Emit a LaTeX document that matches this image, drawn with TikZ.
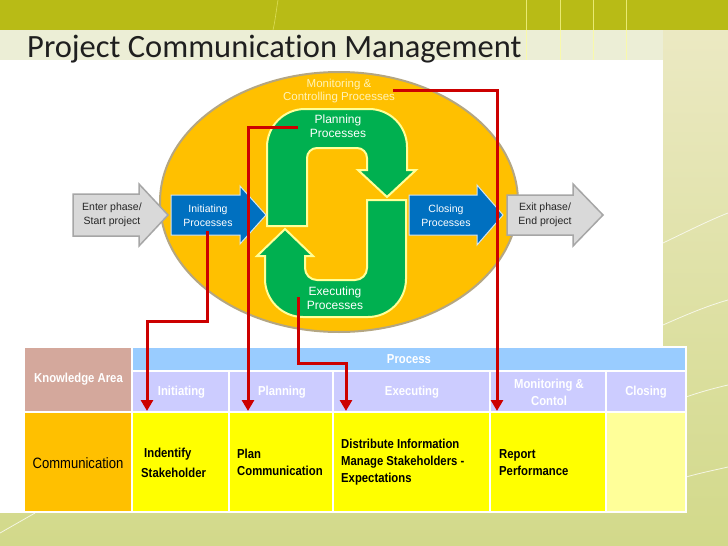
\documentclass[tikz,border=0pt]{standalone}
\usepackage{fontspec}
\setmainfont{Liberation Sans}
\newfontfamily\titlefont[Ligatures=NoCommon]{Carlito}
\newfontfamily\narrowfont[FakeStretch=0.87]{Liberation Sans}
\usetikzlibrary{arrows.meta}
\definecolor{olive}{HTML}{B8BB16}
\definecolor{bgtop}{HTML}{EDEAC6}
\definecolor{bgbot}{HTML}{D2D98A}
\definecolor{band}{HTML}{ECEED6}
\definecolor{ellfill}{HTML}{FFC000}
\definecolor{ellline}{HTML}{B4A682}
\definecolor{greenf}{HTML}{00B050}
\definecolor{greenl}{HTML}{FFFF99}
\definecolor{bluef}{HTML}{0070C0}
\definecolor{bluel}{HTML}{D0E4F4}
\definecolor{grayf}{HTML}{D9D9D9}
\definecolor{grayl}{HTML}{A6A6A6}
\definecolor{redl}{HTML}{CC0000}
\definecolor{kacol}{HTML}{D4A89C}
\definecolor{proccol}{HTML}{99CCFF}
\definecolor{subcol}{HTML}{CCCCFF}
\definecolor{commcol}{HTML}{FFC000}
\definecolor{bodycol}{HTML}{FFFF00}
\definecolor{closecol}{HTML}{FFFF99}
\definecolor{montext}{HTML}{FFF3B8}
\begin{document}
\begin{tikzpicture}[x=1pt,y=-1pt,
  grayarrow/.style={fill=grayf,draw=grayl,line width=1.5pt,line join=miter},
  bluearrow/.style={fill=bluef,draw=bluel,line width=1pt,line join=miter},
  greenshape/.style={fill=greenf,draw=greenl,line width=2pt},
  dtxt/.style={font=\fontsize{10.5}{13.5}\selectfont,align=center,inner sep=0pt},
  cell/.style={draw=white,line width=2.5pt},
  thead/.style={font=\narrowfont\bfseries\fontsize{13}{17}\selectfont,text=white,align=center,inner sep=0pt},
  tbody/.style={font=\narrowfont\bfseries\fontsize{13}{17}\selectfont,text=black,align=left,inner sep=0pt,anchor=west},
  redline/.style={draw=redl,line width=3pt,line join=miter,-{Triangle[width=12pt,length=11pt]}},
  deco/.style={draw=white,line width=0.8pt,opacity=0.75}
]
\useasboundingbox (0,0) rectangle (728,546);
% background
\shade[top color=bgtop,bottom color=bgbot] (0,0) rectangle (728,546);
\fill[olive] (0,0) rectangle (728,30);
\fill[band] (0,30) rectangle (663,60);
\foreach \xx in {526,560,593,626} \draw[draw=greenl,line width=0.8pt,opacity=0.7] (\xx,0) -- (\xx,60);
\draw[draw=greenl,line width=0.6pt,opacity=0.5] (278,0) .. controls (276,12) and (275,22) .. (273,30);
\draw[deco] (663,243) .. controls (690,230) and (710,220) .. (728,213);
\draw[deco] (663,325) .. controls (690,313) and (710,305) .. (728,300);
\draw[deco] (686,397) .. controls (700,392) and (715,388) .. (728,385);
\draw[deco] (686,477) .. controls (700,473) and (715,470) .. (728,467);
\draw[deco] (0,533) -- (35,513);
\fill[white] (0,60) rectangle (663,513);
% title
\node[anchor=base west,inner sep=0pt,text=black!88] (title) at (27,57) {\titlefont\fontsize{32.5}{32.5}\selectfont Project Communication Management};
% ellipse
\filldraw[fill=ellfill,draw=ellline,line width=2pt] (339,202) ellipse [x radius=179, y radius=130];
% planning shape
\filldraw[greenshape] (267,226) -- (267,147) arc[start angle=180,end angle=270,radius=38]
  -- (369,109) arc[start angle=270,end angle=360,radius=38]
  -- (407,170) -- (416,170) -- (387,197) -- (358,170) -- (367,170) -- (367,158)
  arc[start angle=0,end angle=-90,radius=10] -- (317,148)
  arc[start angle=270,end angle=180,radius=10] -- (307,226) -- cycle;
% executing shape
\filldraw[greenshape] (406,200) -- (406,279) arc[start angle=0,end angle=90,radius=38]
  -- (303,317) arc[start angle=90,end angle=180,radius=38]
  -- (265,256) -- (257,256) -- (285,229) -- (313,256) -- (305,256) -- (305,268)
  arc[start angle=180,end angle=90,radius=12] -- (355,280)
  arc[start angle=90,end angle=0,radius=12] -- (367,200) -- cycle;
% process arrows
\filldraw[grayarrow] (73,194) -- (139,194) -- (139,184) -- (168,215) -- (139,246) -- (139,236) -- (73,236) -- cycle;
\filldraw[bluearrow] (171,195) -- (240,195) -- (240,186) -- (266,215) -- (240,244) -- (240,235) -- (171,235) -- cycle;
\filldraw[bluearrow] (409,195) -- (477,195) -- (477,185) -- (503,215) -- (477,245) -- (477,235) -- (409,235) -- cycle;
\filldraw[grayarrow] (507,195) -- (573,195) -- (573,184) -- (603,215) -- (573,246) -- (573,235) -- (507,235) -- cycle;
% diagram texts
\node[dtxt,text=black!85] (enter) at (112,215) {Enter phase/\\Start project};
\node[dtxt,text=white] (init) at (208,215.5) {Initiating\\Processes};
\node[dtxt,text=white] (close) at (446,215.5) {Closing\\Processes};
\node[dtxt,text=black!85] (exit) at (545,215) {Exit phase/\\End project};
\node[dtxt,text=montext,font=\fontsize{11.5}{13.5}\selectfont] (monit) at (339,91) {Monitoring \&\\Controlling Processes};
\node[dtxt,text=white,font=\fontsize{12}{14}\selectfont] (plan) at (338,126.5) {Planning\\Processes};
\node[dtxt,text=white,font=\fontsize{12}{14}\selectfont] (exec) at (335,298.5) {Executing\\Processes};
% table
\filldraw[cell,fill=kacol] (24,347) rectangle (132,412);
\filldraw[cell,fill=proccol] (132,347) rectangle (686,371);
\filldraw[cell,fill=subcol] (132,371) rectangle (229,412);
\filldraw[cell,fill=subcol] (229,371) rectangle (333,412);
\filldraw[cell,fill=subcol] (333,371) rectangle (490,412);
\filldraw[cell,fill=subcol] (490,371) rectangle (606,412);
\filldraw[cell,fill=subcol] (606,371) rectangle (686,412);
\filldraw[cell,fill=commcol] (24,412) rectangle (132,512);
\filldraw[cell,fill=bodycol] (132,412) rectangle (229,512);
\filldraw[cell,fill=bodycol] (229,412) rectangle (333,512);
\filldraw[cell,fill=bodycol] (333,412) rectangle (490,512);
\filldraw[cell,fill=bodycol] (490,412) rectangle (606,512);
\filldraw[cell,fill=closecol] (606,412) rectangle (686,512);
\node[thead] (ka) at (78.5,379.5) {Knowledge Area};
\node[thead] (proc) at (409,359) {Process};
\node[thead] (hini) at (181.5,392) {Initiating};
\node[thead] (hpla) at (282,392) {Planning};
\node[thead] (hexe) at (412,392) {Executing};
\node[thead] (hmon) at (549,392.5) {Monitoring \&\\Contol};
\node[thead] (hclo) at (646,392) {Closing};
\node[inner sep=0pt,font=\narrowfont\fontsize{15}{18}\selectfont] (comm) at (78,463) {Communication};
\node[tbody,font=\narrowfont\bfseries\fontsize{13}{20}\selectfont] (bini) at (141,463) {\hspace{3pt}Indentify\\Stakeholder};
\node[tbody] (bpla) at (237,462.5) {Plan\\Communication};
\node[tbody] (bexe) at (341,462) {Distribute Information\\Manage Stakeholders -\\Expectations};
\node[tbody] (bmon) at (499,462.5) {Report\\Performance};
% red connectors
\coordinate (r1a) at (207,231);
\coordinate (r1k) at (147,321);
\coordinate (r1e) at (147,411);
\coordinate (r2a) at (298,127);
\coordinate (r2e) at (248,411);
\coordinate (r3a) at (298,297);
\coordinate (r3k) at (346,363);
\coordinate (r3e) at (346,411);
\coordinate (r4a) at (393,90);
\coordinate (r4e) at (497,411);
\draw[redline] (r1a) |- (r1k) -- (r1e);
\draw[redline] (r2a) -| (r2e);
\draw[redline] (r3a) |- (r3k) -- (r3e);
\draw[redline] (r4a) -| (r4e);
\end{tikzpicture}
\end{document}
